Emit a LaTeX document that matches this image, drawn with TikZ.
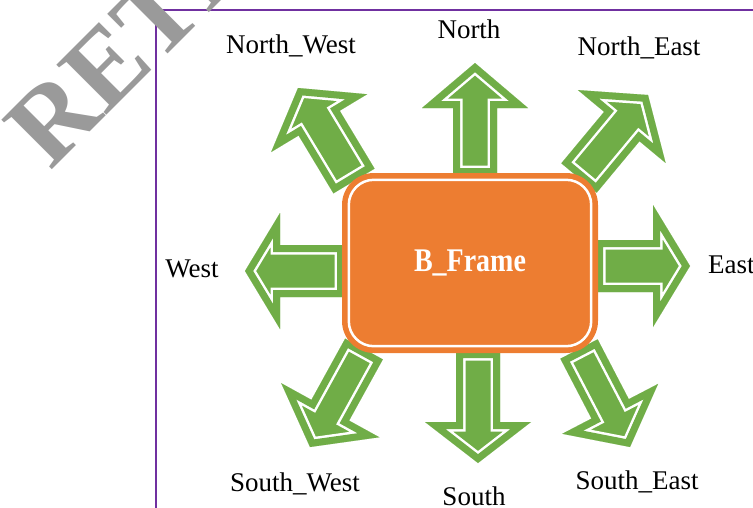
\documentclass[tikz,border=0pt]{standalone}
\usepackage{fontspec}
\setmainfont{Liberation Serif}
\usetikzlibrary{calc}

\definecolor{leafgreen}{HTML}{70AD47}
\definecolor{boxorange}{HTML}{ED7D31}
\definecolor{framepurple}{HTML}{7030A0}
\definecolor{markgray}{HTML}{9A9A9A}

% block arrow from #1 to #2, shaft half width #3, head half width #4, head length #5
\newcommand\blockarrow[5]{
  \coordinate (m) at ($(#2)!#5!(#1)$);
  \coordinate (b1) at ($(#1)!#3!90:(#2)$);
  \coordinate (m1) at ($(m)!#3!90:(#2)$);
  \coordinate (h1) at ($(m)!#4!90:(#2)$);
  \coordinate (h2) at ($(m)!#4!-90:(#2)$);
  \coordinate (m2) at ($(m)!#3!-90:(#2)$);
  \coordinate (b2) at ($(#1)!#3!-90:(#2)$);
  \fill[leafgreen] (b1) -- (m1) -- (h1) -- (#2) -- (h2) -- (m2) -- (b2) -- cycle;
  \begin{scope}
    \clip (b1) -- (m1) -- (h1) -- (#2) -- (h2) -- (m2) -- (b2) -- cycle;
    \draw[white,line width=19pt,miter limit=25] (b1) -- (m1) -- (h1) -- (#2) -- (h2) -- (m2) -- (b2) -- cycle;
    \draw[leafgreen,line width=14pt,miter limit=25] (b1) -- (m1) -- (h1) -- (#2) -- (h2) -- (m2) -- (b2) -- cycle;
  \end{scope}
}

\begin{document}
\begin{tikzpicture}[x=1pt,y=-1pt,
  dirtext/.style={anchor=base,inner sep=0,font=\fontsize{27}{32}\selectfont}]
  \useasboundingbox (0,0) rectangle (753,507);
  \clip (0,0) rectangle (753,507);

  % page frame
  \draw[framepurple,line width=2pt] (155.5,520) -- (155.5,10) -- (760,10);

  % the eight arrows
  \blockarrow{475,175}{475,63}{22pt}{53pt}{45pt}
  \blockarrow{478,351}{478,463}{22pt}{53pt}{41pt}
  \blockarrow{344,271}{245,271}{26pt}{58pt}{35pt}
  \blockarrow{596,266}{690,266}{26pt}{61pt}{37pt}
  \blockarrow{354,181}{298,88}{24pt}{56pt}{41pt}
  \blockarrow{579,178}{648,95}{23pt}{57pt}{41pt}
  \blockarrow{364,349}{310,447}{21.5pt}{56pt}{42pt}
  \blockarrow{579,349}{630,447}{21pt}{54pt}{43pt}

  % the frame in the middle
  \node at (470,263) [fill=boxorange,rounded corners=32pt,minimum width=256pt,minimum height=180pt,
    text=white,font=\fontsize{28}{32}\selectfont\bfseries] (frame) {\scalebox{1}[1.18]{B\_Frame}};
  \draw[white,line width=2.5pt,rounded corners=25pt]
    ([xshift=7pt,yshift=-7pt]frame.north west) rectangle ([xshift=-7pt,yshift=7pt]frame.south east);

  % direction names
  \node at (469,38) [dirtext] (n) {North};
  \node at (291,53) [dirtext] (nw) {North\_West};
  \node at (639,55) [dirtext] (ne) {North\_East};
  \node at (192,277) [dirtext] (w) {West};
  \node at (708,273) [dirtext,anchor=base west] (e) {East};
  \node at (295,491) [dirtext] (sw) {South\_West};
  \node at (474,505) [dirtext] (s) {South};
  \node at (637,489) [dirtext] (se) {South\_East};

  % watermark
  \node at (50,172) [anchor=base west,rotate=45,inner sep=0,text=markgray,
    font=\fontsize{108}{108}\selectfont\bfseries] (mark) {RETRACTED};
\end{tikzpicture}
\end{document}
